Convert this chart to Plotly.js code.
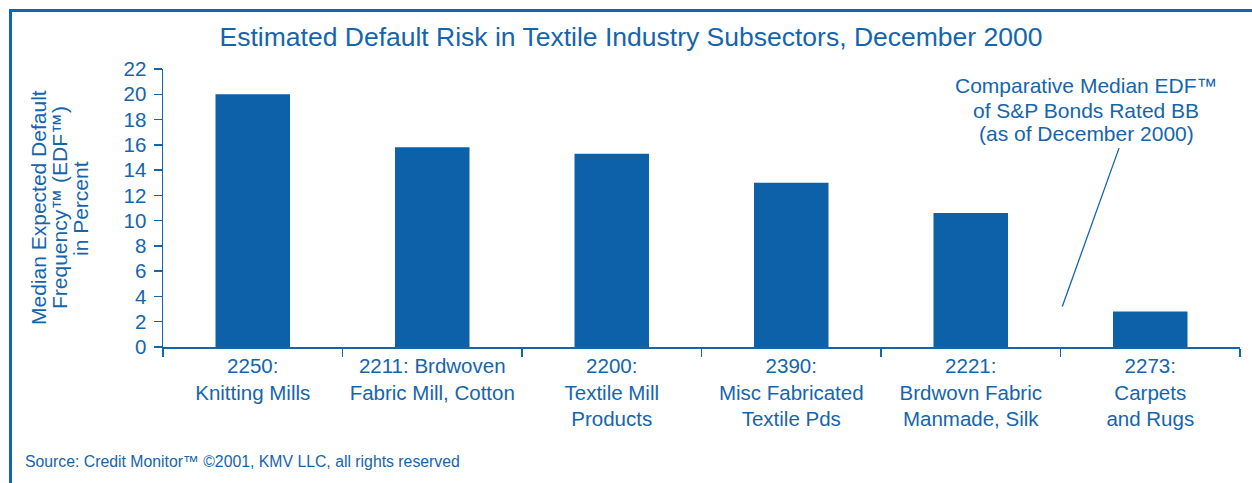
<!DOCTYPE html>
<html>
<head>
<meta charset="utf-8">
<script src="https://cdn.plot.ly/plotly-3.0.1.min.js"></script>
<style>
  html, body { margin: 0; padding: 0; background: #fff; }
  #wrap { position: relative; width: 1252px; height: 483px; overflow: hidden; }
  #chart { width: 1252px; height: 483px; }
  #frame { position: absolute; left: 9px; top: 9px; width: 1300px; height: 600px;
           border-top: 3px solid #1565ad; border-left: 3px solid #1565ad; pointer-events: none; }
</style>
</head>
<body>
<div id="wrap">
  <div id="chart"></div>
  <div id="frame"></div>
</div>
<script>
// ---- data ----
const categories = ["2250", "2211", "2200", "2390", "2221", "2273"];
const tickLabels = [
  "2250:<br>Knitting Mills",
  "2211: Brdwoven<br>Fabric Mill, Cotton",
  "2200:<br>Textile Mill<br>Products",
  "2390:<br>Misc Fabricated<br>Textile Pds",
  "2221:<br>Brdwovn Fabric<br>Manmade, Silk",
  "2273:<br>Carpets<br>and Rugs"
];
const edfPercent = [20.0, 15.8, 15.3, 13.0, 10.6, 2.8];
const yTicks = [0, 2, 4, 6, 8, 10, 12, 14, 16, 18, 20, 22];

const titleText = "Estimated Default Risk in Textile Industry Subsectors, December 2000";
const yTitleLines = ["Median Expected Default", "Frequency™ (EDF™)", "in Percent"];
const noteLines = ["Comparative Median EDF™", "of S&P Bonds Rated BB", "(as of December 2000)"];
const sourceText = "Source: Credit Monitor™ ©2001, KMV LLC, all rights reserved";

const blue = "#1565ad";
const barBlue = "#0c61a9";
const fontFam = "Liberation Sans, Arial, Helvetica, sans-serif";

// plot-area geometry in pixels (used only to place text decorations)
const W = 1252, H = 483;
const M = { l: 163, r: 12, t: 69, b: 136 };
const PW = W - M.l - M.r, PH = H - M.t - M.b;
const px = (x) => (x - M.l) / PW;
const py = (y) => (H - M.b - y) / PH;

const trace = {
  type: "bar",
  x: categories,
  y: edfPercent,
  marker: { color: barBlue, line: { width: 0 } },
  hoverinfo: "none"
};

const annotations = [];
const yTitleX = [38, 59, 80];
yTitleLines.forEach((t, i) => annotations.push({
  text: t, xref: "paper", yref: "paper",
  x: px(yTitleX[i]), y: 0.5, xanchor: "center", yanchor: "middle",
  textangle: -90, showarrow: false, font: { size: 21, color: blue }
}));
const noteY = [86, 110, 133];
noteLines.forEach((t, i) => annotations.push({
  text: t, xref: "paper", yref: "paper",
  x: px(1086), y: py(noteY[i]), xanchor: "center", yanchor: "middle",
  showarrow: false, font: { size: 21, color: blue }
}));
annotations.push({
  text: sourceText, xref: "paper", yref: "paper",
  x: px(23), y: py(461), xanchor: "left", yanchor: "middle",
  showarrow: false, font: { size: 15.8, color: blue }
});

const layout = {
  width: W,
  height: H,
  margin: M,
  paper_bgcolor: "rgba(0,0,0,0)",
  plot_bgcolor: "rgba(0,0,0,0)",
  font: { family: fontFam, color: blue, size: 19 },
  bargap: 0.585,
  showlegend: false,
  title: {
    text: titleText,
    font: { size: 26.5, color: blue, family: fontFam },
    xref: "container", x: 0.504, xanchor: "center",
    yref: "container", y: 0.923, yanchor: "middle"
  },
  xaxis: {
    type: "category",
    tickmode: "array",
    tickvals: categories,
    ticktext: tickLabels,
    tickson: "boundaries",
    ticks: "outside",
    ticklen: 8,
    tickwidth: 1.5,
    tickcolor: blue,
    showline: true,
    linecolor: blue,
    linewidth: 1.5,
    showgrid: false,
    zeroline: false,
    tickfont: { size: 20.5, color: blue },
    fixedrange: true
  },
  yaxis: {
    range: [0, 22],
    tickmode: "array",
    tickvals: yTicks,
    ticks: "outside",
    ticklen: 8,
    tickwidth: 1.5,
    tickcolor: blue,
    showline: true,
    linecolor: blue,
    linewidth: 1.5,
    showgrid: false,
    zeroline: false,
    tickfont: { size: 20.5, color: blue },
    ticklabelstandoff: 3,
    fixedrange: true
  },
  annotations: annotations,
  shapes: [
    {
      type: "line",
      xref: "x", yref: "y",
      x0: 4.51, y0: 3.2, x1: 4.826, y1: 15.74,
      line: { color: blue, width: 1.3 }
    }
  ]
};

Plotly.newPlot("chart", [trace], layout, { displayModeBar: false, staticPlot: true });
</script>
</body>
</html>
